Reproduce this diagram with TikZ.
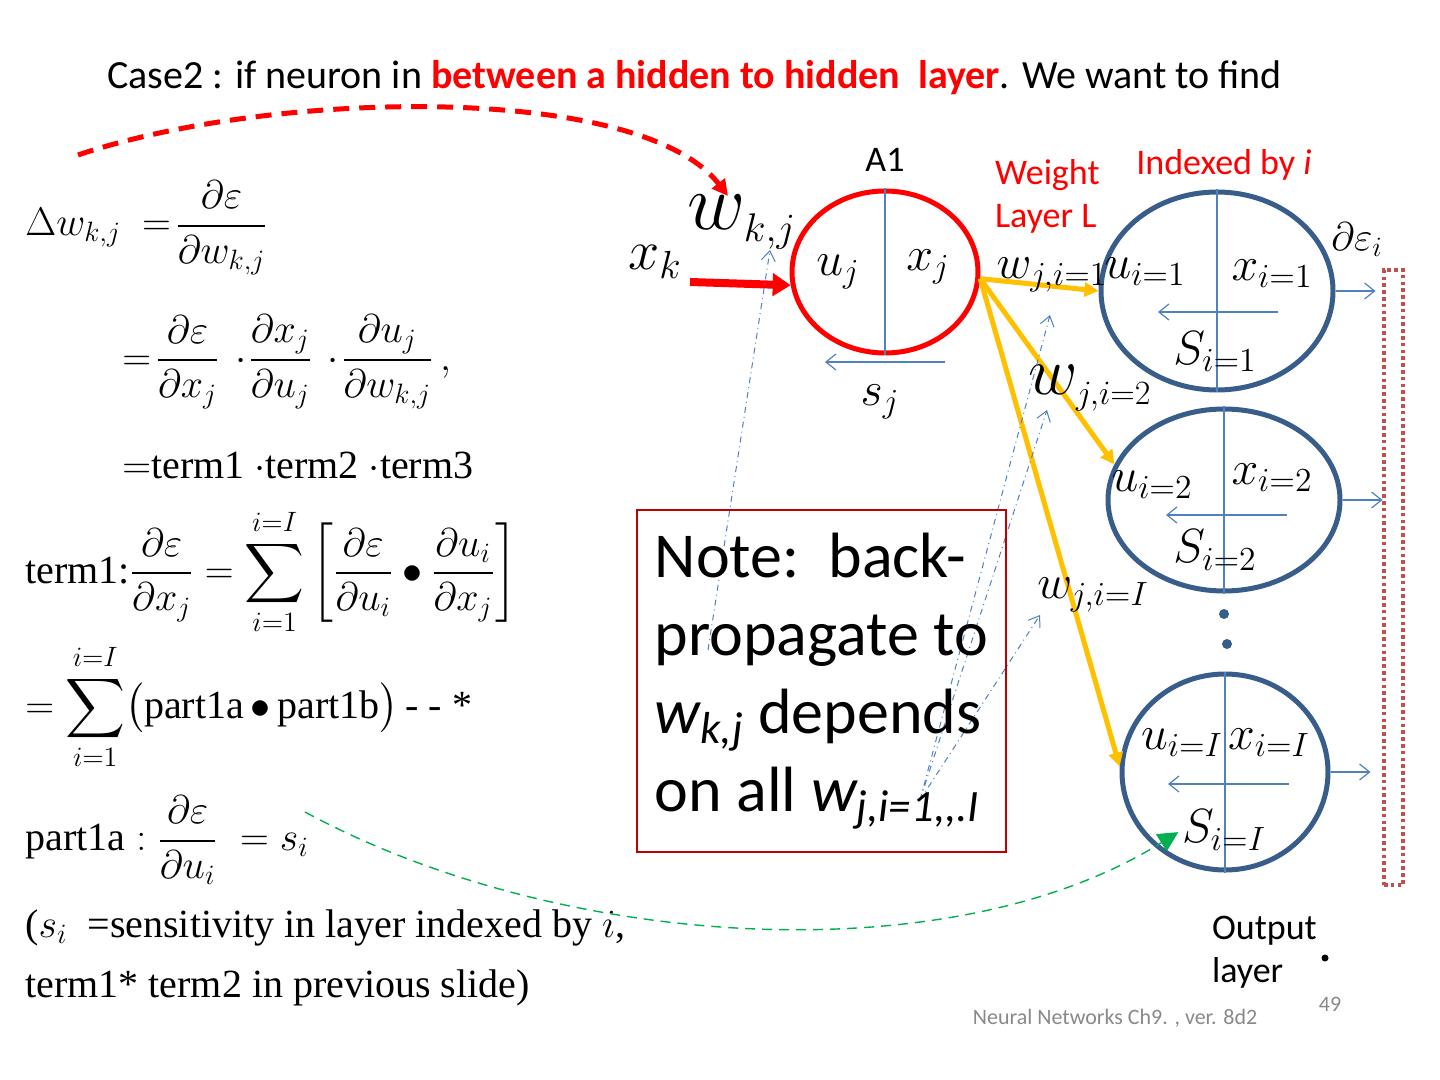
\RequirePackage{fix-cm}
\documentclass[tikz,border=0pt]{standalone}
\usepackage{amsmath}
\usepackage{fontspec}
\setmainfont{Liberation Serif}
\newfontfamily\calib{Carlito}
\usetikzlibrary{arrows.meta,shapes.geometric,calc}
\definecolor{slred}{RGB}{255,0,0}
\definecolor{cellblue}{RGB}{56,93,138}
\definecolor{thinblue}{RGB}{79,129,189}
\definecolor{wgold}{RGB}{255,192,0}
\definecolor{outred}{RGB}{192,80,77}
\definecolor{boxred}{RGB}{192,0,0}
\definecolor{sgreen}{RGB}{0,176,80}
\definecolor{footgray}{RGB}{137,137,137}
\tikzset{
  eqn/.style={anchor=west, inner sep=0pt, font=\fontsize{20}{24}\selectfont},
  lbl/.style={inner sep=0pt, font=\fontsize{24}{26}\selectfont},
  sans/.style={font=\calib\fontsize{18}{21.5}\selectfont},
  cell/.style={ellipse, draw=cellblue, line width=2.5pt, inner sep=0pt},
  divline/.style={draw=thinblue, line width=0.6pt},
  backarrow/.style={thinblue, line width=0.6pt, -{Straight Barb[length=5pt,width=8pt]}},
  weightline/.style={wgold, line width=2.5pt, -{Triangle[length=7pt,width=7pt]}},
  tracearrow/.style={thinblue, line width=0.5pt, dash dot, -{Straight Barb[length=5pt,width=7pt]}},
  dotmark/.style={circle, fill=cellblue, inner sep=0pt, minimum size=5pt},
}
\begin{document}
\begin{tikzpicture}[x=0.5pt, y=-0.5pt, >=Stealth]
\useasboundingbox (0,0) rectangle (1440,1080);

\node[sans, font=\calib\fontsize{20}{24}\selectfont, anchor=west] (title) at (100,78) {Case2 : if neuron in \textcolor{slred}{\bfseries between a hidden to hidden\ \ layer}. We want to find};

% equations on the left
\node[eqn] (dw) at (25,228) {$\Delta w_{k,j}\ =\!\dfrac{\partial\varepsilon}{\partial w_{k,j}}$};
\node[eqn] (chain) at (122,362) {$=\!\dfrac{\partial\varepsilon}{\partial x_j}\,\cdot\!\dfrac{\partial x_j}{\partial u_j}\,\cdot\!\dfrac{\partial u_j}{\partial w_{k,j}}\,,$};
\node[eqn] (terms) at (122,465) {$=$term1 $\cdot$term2 $\cdot$term3};
\node[eqn] (term1) at (25,572) {term1:$\dfrac{\partial\varepsilon}{\partial x_j}=\displaystyle\sum_{i=1}^{i=I}\left[\dfrac{\partial\varepsilon}{\partial u_i}\bullet\dfrac{\partial u_i}{\partial x_j}\right]$};
\node[eqn] (sum) at (25,707) {$=\displaystyle\sum_{i=1}^{i=I}\bigl($part1a$\,\bullet\,$part1b$\bigr)$\,- - *};
\node[eqn] (part1a) at (25,840) {part1a$\;:\dfrac{\partial\varepsilon}{\partial u_i}\;=s_i$};
\node[eqn] (sens) at (25,928) {($s_i$\ \ =sensitivity in layer indexed by $i$,};
\node[eqn] (prev) at (25,988) {term1* term2 in previous slide)};

% hidden neuron A1
\node[ellipse, draw=slred, line width=2.5pt, minimum width=93pt, minimum height=81pt, inner sep=0pt] (a1) at (885,272) {};
\draw[divline] (a1.north) -- (a1.south);
\node[sans] (a1lbl) at (885,160) {A1};
\node[lbl] (uj) at (838,272) {$u_j$};
\node[lbl] (xj) at (928,267) {$x_j$};
\coordinate (sjr) at (945,362);
\coordinate (sjl) at (825,362);
\draw[backarrow] (sjr) -- (sjl);
\node[lbl] (sj) at (880,402) {$s_j$};

\node[lbl, font=\fontsize{28}{30}\selectfont] (xk) at (655,262) {$x_k$};
\node[lbl, font=\fontsize{40}{42}\selectfont] (wkj) at (742,222) {$w_{\scriptscriptstyle k,j}$};
\coordinate (xkin) at (690,282);
\draw[slred, line width=4pt, -{Triangle[length=9pt,width=11pt]}] (xkin) -- (a1.188);

\coordinate (arcstart) at (78,155);
\coordinate (arcend) at (728,196);
\draw[slred, line width=2.5pt, dash pattern=on 8pt off 5pt, -{Triangle[length=8pt,width=8pt]}] (arcstart) .. controls (270,90) and (640,82) .. (arcend);

% output layer neurons
\node[cell, minimum width=116pt, minimum height=99pt] (n1) at (1217,291) {};
\node[cell, minimum width=116pt, minimum height=91pt] (n2) at (1224,500) {};
\node[cell, minimum width=103pt, minimum height=98pt] (n3) at (1225,772) {};
\foreach \n in {n1,n2,n3}
  \draw[divline] (\n.north) -- (\n.south);
\draw[backarrow] ($(n1)+(61,21)$) -- ($(n1)+(-59,21)$);
\draw[backarrow] ($(n2)+(63,15)$) -- ($(n2)+(-58,15)$);
\draw[backarrow] ($(n3)+(64,12)$) -- ($(n3)+(-57,12)$);
\foreach \n in {n1,n2,n3}
  \draw[backarrow] (\n.east) -- ++(40,0);

\node[lbl] (u1) at (1145,272) {$u_{i=1}$};
\node[lbl] (x1) at (1272,274) {$x_{i=1}$};
\node[lbl] (s1) at (1215,352) {$S_{i=1}$};
\node[lbl] (u2) at (1152,485) {$u_{i=2}$};
\node[lbl] (x2) at (1272,478) {$x_{i=2}$};
\node[lbl] (s2) at (1215,550) {$S_{i=2}$};
\node[lbl] (uI) at (1182,743) {$u_{i=I}$};
\node[lbl] (xI) at (1269,743) {$x_{i=I}$};
\node[lbl] (sI) at (1224,830) {$S_{i=I}$};
\node[dotmark] (dot1) at (1224,614) {};
\node[dotmark] (dot2) at (1227,644) {};

% weights from A1
\draw[weightline] (a1.-4) -- (n1.west);
\draw[weightline] (a1.-4) -- (n2.162);
\draw[weightline] (a1.-4) -- (n3.177);
\node[lbl] (w1) at (1052,275) {$w_{j,i=1}$};
\node[lbl, font=\fontsize{34}{36}\selectfont] (w2) at (1090,388) {$w_{\scriptscriptstyle j,i=2}$};
\node[lbl] (wI) at (1093,595) {$w_{j,i=I}$};

% back-propagation traces
\coordinate (bpk) at (708,650);
\coordinate (bpw) at (770,250);
\draw[tracearrow] (bpk) -- (bpw);
\coordinate (bp0) at (920,800);
\coordinate (tr1) at (1050,315);
\coordinate (tr2) at (1047,410);
\coordinate (tr3) at (1040,615);
\draw[tracearrow] (bp0) -- (tr1);
\draw[tracearrow] (bp0) -- (tr2);
\draw[tracearrow] (bp0) -- (tr3);

\node[draw=boxred, line width=0.6pt, minimum width=184.5pt, minimum height=171pt, align=left, inner sep=0pt, font=\calib\fontsize{32}{39}\selectfont] (note) at (821.5,681) {Note:\ \ back-\\propagate to\\{\itshape w}\textsubscript{\itshape k,j} depends\\on all {\itshape w}\textsubscript{\itshape j,i=1,,.I}};

\node[draw=outred, line width=2pt, dash pattern=on 1.8pt off 1.6pt, minimum width=9.5pt, minimum height=307.5pt, inner sep=0pt] (outs) at (1393.5,577.5) {};
\node[lbl, font=\fontsize{20}{22}\selectfont] (de) at (1357,240) {$\partial\varepsilon_i$};

\coordinate (sstart) at (305,812);
\draw[sgreen, line width=0.7pt, dash pattern=on 5pt off 3.5pt, -{Triangle[length=10pt,width=10pt]}, shorten >=2pt] (sstart) .. controls (560,950) and (950,975) .. (sI.west);

\node[sans, text=slred, align=left, anchor=west] (wlayer) at (988,196) {Weight\\Layer L};
\node[sans, text=slred] (idx) at (1224,165) {Indexed by \textit{i}};
\node[sans, align=left, anchor=west] (outl) at (1205,952) {Output\\layer};
\node[circle, fill=black, inner sep=0pt, minimum size=3.5pt] (odot) at (1325,958) {};
\node[font=\calib\fontsize{11}{13}\selectfont, text=footgray] (foot) at (1115,1018) {Neural Networks Ch9. , ver. 8d2};
\node[font=\calib\fontsize{11}{13}\selectfont, text=footgray] (pnum) at (1330,1004) {49};
\end{tikzpicture}
\end{document}
